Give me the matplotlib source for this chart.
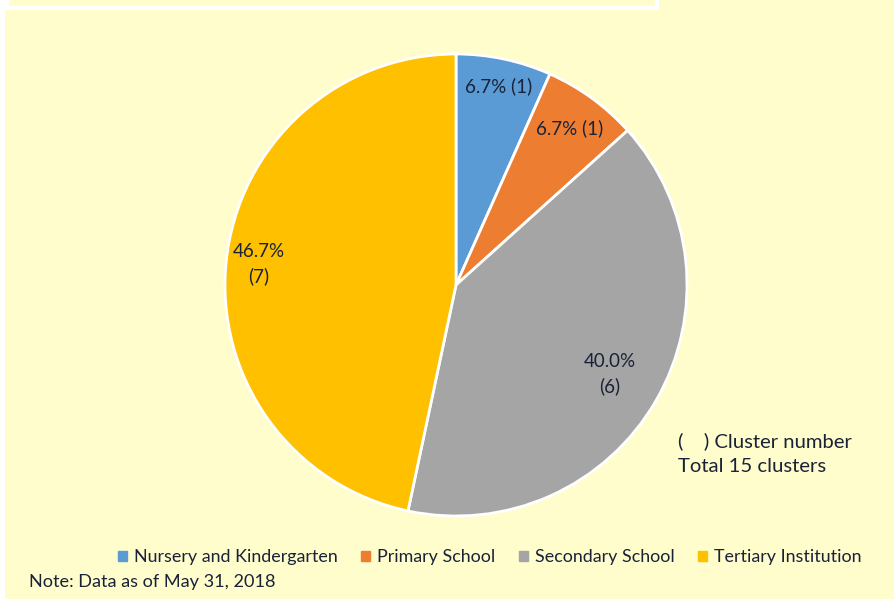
import numpy as np
import matplotlib.pyplot as plt
from matplotlib.patches import Rectangle

categories = ["Nursery and Kindergarten", "Primary School", "Secondary School", "Tertiary Institution"]
clusters = [1, 1, 6, 7]
colors = ["#5B9BD5", "#ED7D31", "#A5A5A5", "#FFC000"]
label_dist = [0.88, 0.84, 0.77, 0.86]
two_line = [False, False, True, True]

plt.rcParams['font.family'] = ['Lato', 'DejaVu Sans']

W, H = 894, 599
fig = plt.figure(figsize=(W / 100, H / 100), dpi=100, facecolor="white")

# pale yellow panel
bg = fig.add_axes([5 / W, 0, 1 - 5 / W, 1])
bg.set_xlim(5, W)
bg.set_ylim(H, 0)
bg.axis("off")
bg.add_patch(Rectangle((5, 0), W - 5, H, facecolor="#FFFDCC", edgecolor="none"))
# cut off title box at top
bg.add_patch(Rectangle((7, -20), 650, 28, facecolor="none", edgecolor="white", lw=3))

cx, cy, r = 456, 285, 231
ax = fig.add_axes([(cx - r) / W, (H - cy - r) / H, 2 * r / W, 2 * r / H])
wedges, _ = ax.pie(clusters, colors=colors, startangle=90, counterclock=False,
                   wedgeprops=dict(edgecolor="white", linewidth=2))
ax.set_xlim(-1, 1)
ax.set_ylim(-1, 1)
ax.set_aspect("auto")

total = sum(clusters)
for w, n, d, tl in zip(wedges, clusters, label_dist, two_line):
    ang = np.deg2rad((w.theta1 + w.theta2) / 2)
    pct = 100 * n / total
    sep = "\n" if tl else " "
    ax.text(d * np.cos(ang), d * np.sin(ang), f"{pct:.1f}%{sep}({n})",
            ha="center", va="center", fontsize=13.5, color="#1A2238", linespacing=1.45)

fig.text(678 / W, 1 - 441 / H, "(    ) Cluster number", fontsize=14.6, color="#1A2238", va="center")
fig.text(678 / W, 1 - 467 / H, "Total 15 clusters", fontsize=14.6, color="#1A2238", va="center")

handles = [Rectangle((0, 0), 1, 1, color=c) for c in colors]
fig.legend(handles, categories, loc="center", bbox_to_anchor=(490 / W, 1 - 557 / H),
           ncol=4, frameon=False, fontsize=12.9, handlelength=0.5, handleheight=0.5,
           handletextpad=0.4, columnspacing=1.3, labelcolor="#1A2238")

fig.text(29 / W, 1 - 582 / H, "Note: Data as of May 31, 2018", fontsize=13.1, color="#1A2238", va="center")

fig.savefig("out.png", dpi=100, facecolor=fig.get_facecolor())
